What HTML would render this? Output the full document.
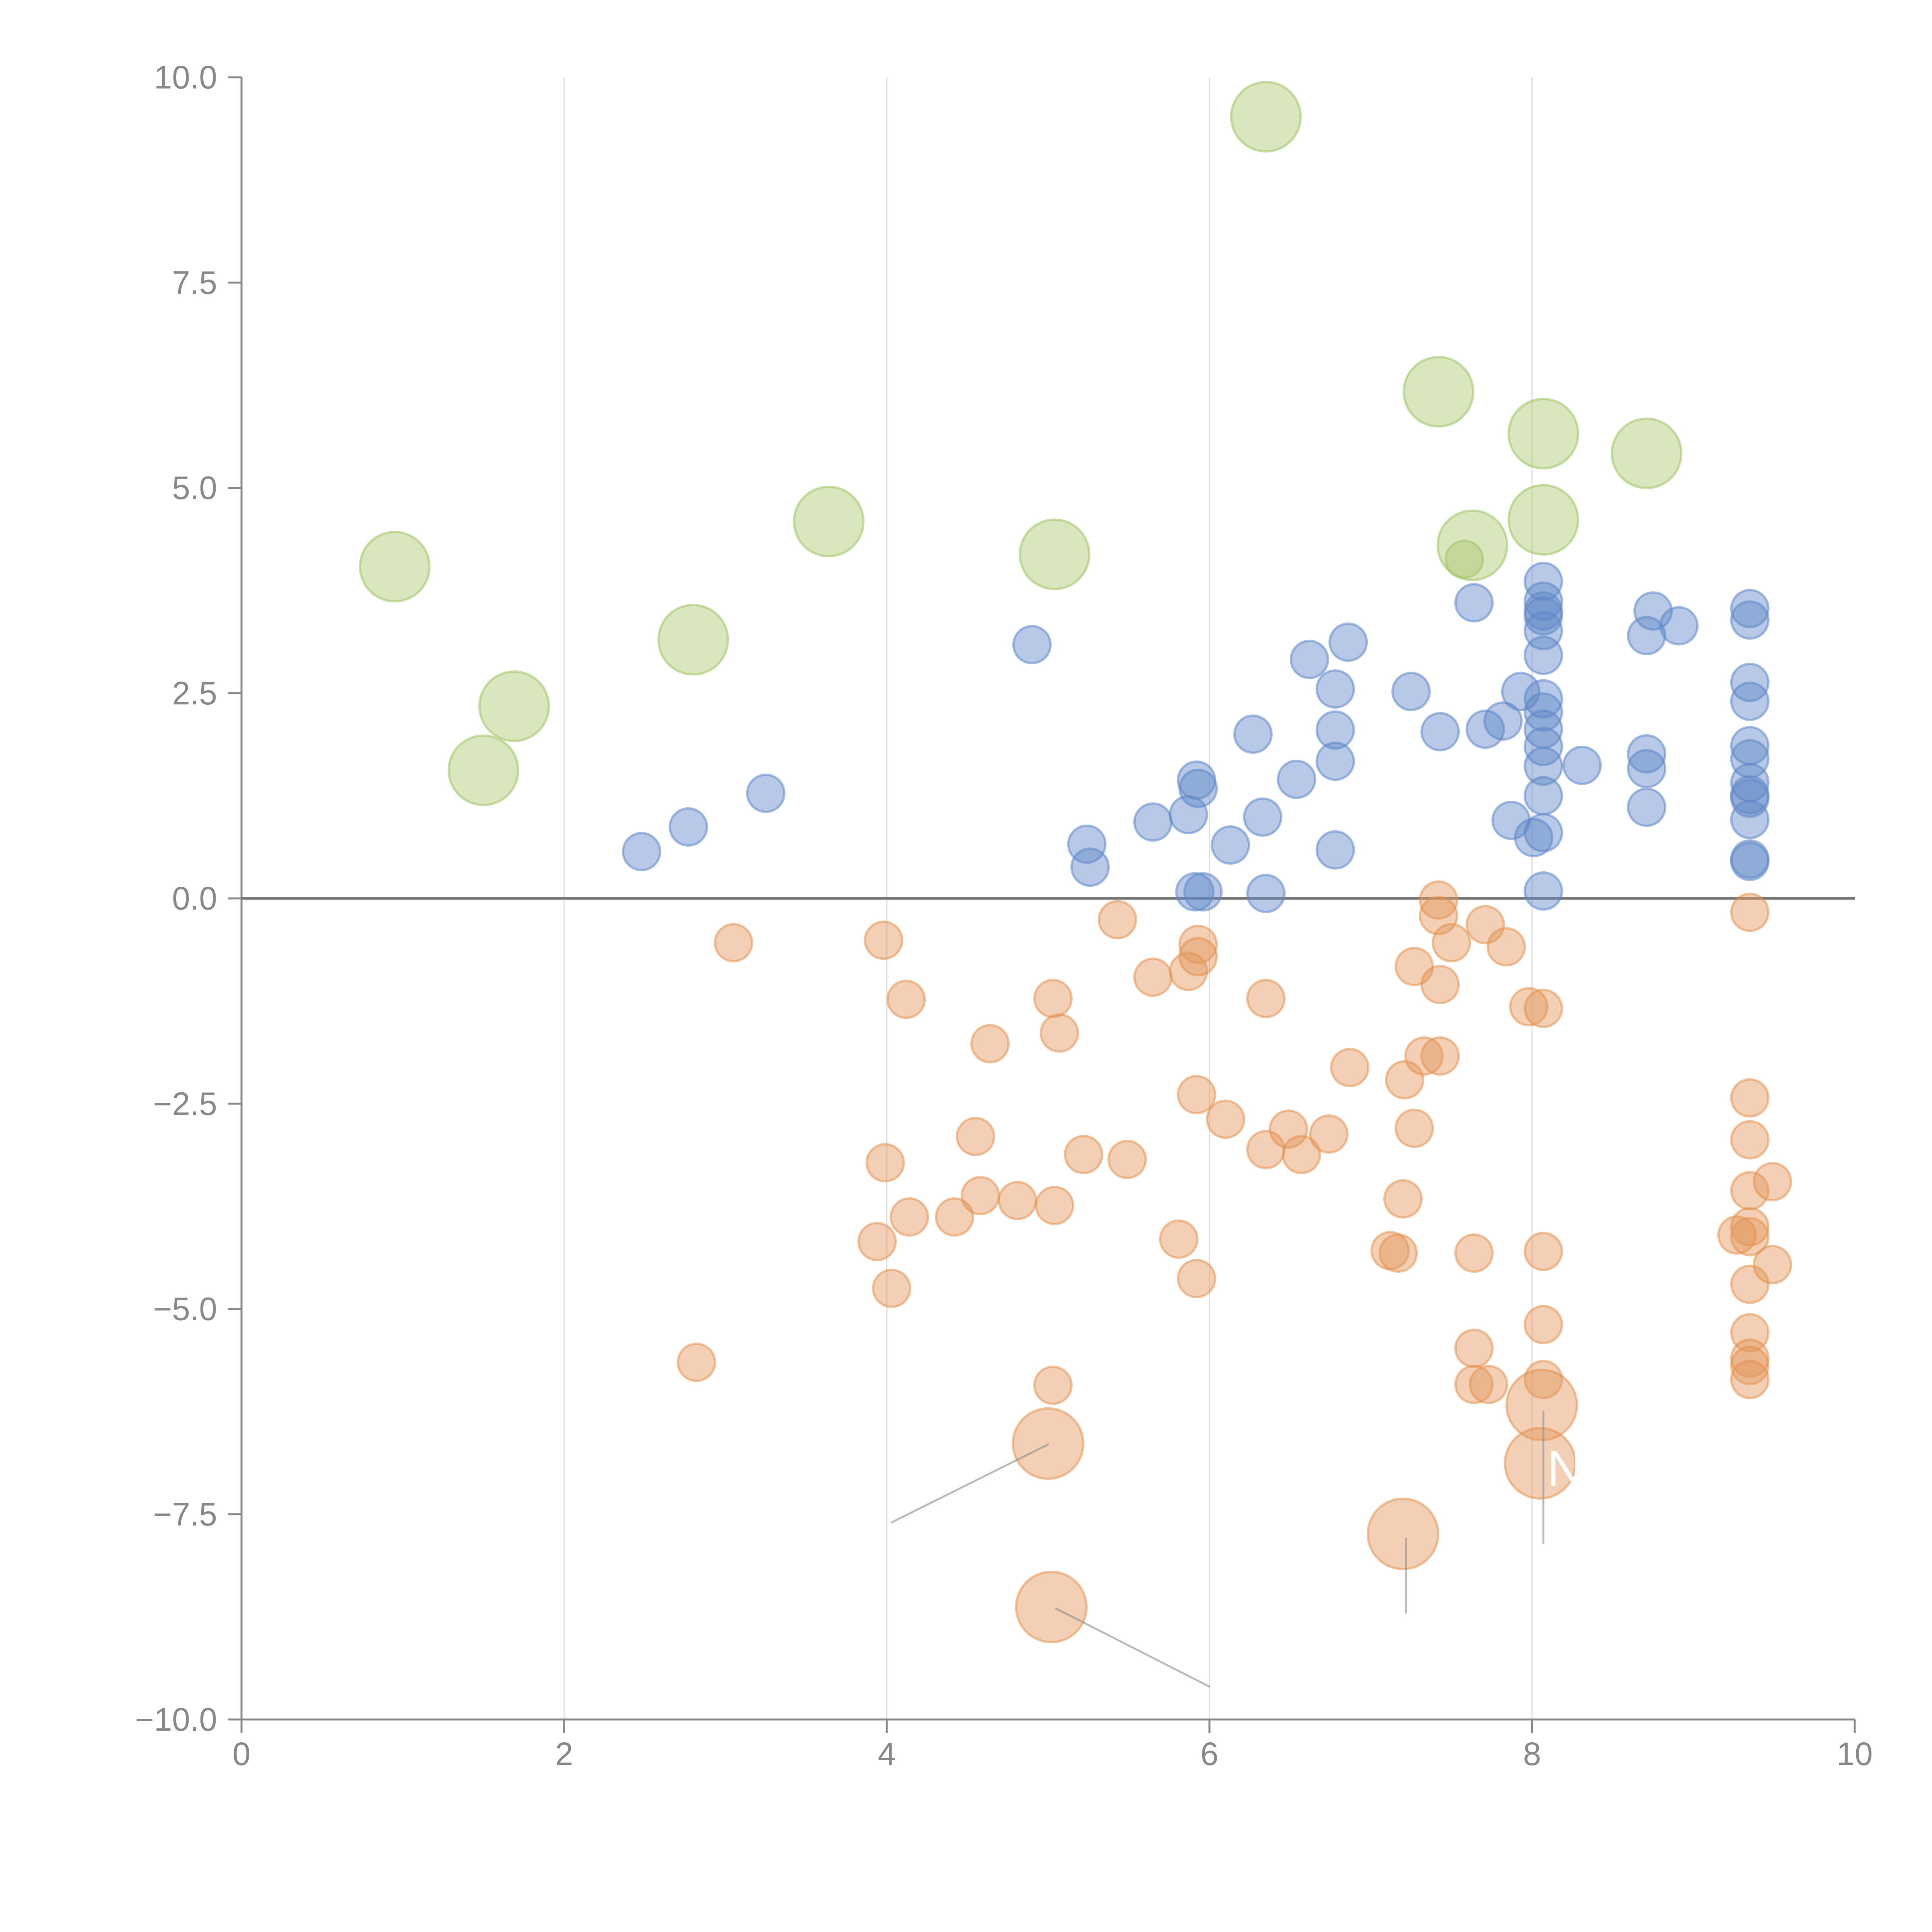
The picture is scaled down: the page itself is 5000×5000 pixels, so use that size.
<!DOCTYPE html>
<html><head><meta charset="utf-8"><style>
html,body{margin:0;padding:0;background:#fff}
svg{display:block}
text{font-family:"Liberation Sans",Arial,sans-serif}
</style></head><body>
<svg id="chart" width="5000" height="5000" viewBox="0 0 5000 5000" xmlns="http://www.w3.org/2000/svg"></svg>
<script>
const xTicks=[0,2,4,6,8,10];
const xTickLabels=["0","2","4","6","8","10"];
const yTicks=[-10,-7.5,-5,-2.5,0,2.5,5,7.5,10];
const yTickLabels=["\u221210.0","\u22127.5","\u22125.0","\u22122.5","0.0","2.5","5.0","7.5","10.0"];
const blueX=[2.48,2.77,3.25,4.90,5.24,5.26,5.65,5.87,5.92,5.93,5.91,5.96,6.13,6.27,6.33,6.35,6.54,6.62,6.78,6.78,6.78,6.78,6.86,7.25,7.43,7.64,7.71,7.82,7.87,7.93,8.01,8.07,8.07,8.07,8.07,8.07,8.07,8.07,8.07,8.07,8.07,8.07,8.07,8.07,8.07,8.31,8.71,8.71,8.71,8.71,8.75,8.91,9.35,9.35,9.35,9.35,9.35,9.35,9.35,9.35,9.35,9.35,9.35,9.35];
const blueY=[0.57,0.87,1.28,3.09,0.66,0.38,0.93,1.02,1.44,1.34,0.08,0.08,0.65,2.00,0.99,0.06,1.45,2.91,2.55,2.05,1.67,0.59,3.12,2.52,2.03,3.60,2.06,2.16,0.95,2.52,0.74,3.86,3.62,3.50,3.44,3.26,2.96,2.43,2.27,2.06,1.85,1.61,1.25,0.80,0.09,1.62,3.20,1.76,1.58,1.11,3.50,3.32,3.53,3.39,2.63,2.40,1.86,1.70,1.41,1.26,1.22,0.96,0.48,0.45];
const orangeX=[3.05,2.82,3.98,4.12,3.99,3.94,4.03,4.14,4.42,4.55,4.58,4.64,4.81,5.03,5.07,5.04,5.03,5.22,5.43,5.49,5.65,5.81,5.87,5.92,5.92,5.93,5.93,6.10,6.35,6.35,6.49,6.57,6.74,6.87,7.21,7.20,7.27,7.27,7.12,7.17,7.33,7.42,7.42,7.43,7.43,7.50,7.71,7.84,7.64,7.64,7.64,7.73,7.98,8.07,8.07,8.07,8.07,9.35,9.35,9.35,9.35,9.35,9.35,9.35,9.35,9.35,9.35,9.35,9.49,9.49,9.27,5.00,5.02,7.20,8.06,8.05];
const orangeY=[-0.54,-5.65,-0.51,-1.23,-3.22,-4.18,-4.75,-3.88,-3.88,-2.90,-3.62,-1.77,-3.68,-1.22,-1.64,-3.74,-5.93,-3.12,-0.26,-3.18,-0.96,-4.15,-0.89,-2.39,-4.63,-0.56,-0.71,-2.69,-1.22,-3.06,-2.81,-3.12,-2.87,-2.06,-2.21,-3.66,-0.83,-2.80,-4.29,-4.32,-1.92,-0.02,-0.21,-1.05,-1.92,-0.54,-0.32,-0.59,-4.32,-5.48,-5.92,-5.92,-1.32,-1.34,-4.30,-5.19,-5.86,-0.17,-2.43,-2.94,-3.56,-4.00,-4.12,-4.70,-5.29,-5.60,-5.69,-5.86,-3.45,-4.46,-4.10,-6.64,-8.63,-7.74,-6.17,-6.88];
const orangeSize=[1,1,1,1,1,1,1,1,1,1,1,1,1,1,1,1,1,1,1,1,1,1,1,1,1,1,1,1,1,1,1,1,1,1,1,1,1,1,1,1,1,1,1,1,1,1,1,1,1,1,1,1,1,1,1,1,1,1,1,1,1,1,1,1,1,1,1,1,1,1,1,3.6,3.6,3.6,3.6,3.6];
const greenX=[0.95,1.50,1.69,2.80,3.64,5.04,6.35,7.42,7.63,8.07,8.07,8.71,7.58];
const greenY=[4.04,1.56,2.34,3.15,4.59,4.19,9.52,6.17,4.30,5.66,4.61,5.42,4.13];
const greenSize=[3.5,3.5,3.5,3.5,3.5,3.5,3.5,3.5,3.5,3.5,3.5,3.5,1];
const leaderX1=[5.0,5.05,7.22,8.07];
const leaderY1=[-6.65,-8.65,-7.8,-6.25];
const leaderX2=[4.03,6.0,7.22,8.07];
const leaderY2=[-7.6,-9.6,-8.7,-7.85];

const X0=625,X1=4800,Y0=4450,Y1=200;
function sx(v){return X0+(v-0)/(10-0)*(X1-X0);}
function sy(v){return Y0-(v+10)/20*(Y0-Y1);}
function sr(s){return 48*Math.sqrt(s);}
const NS="http://www.w3.org/2000/svg";
const svg=document.getElementById('chart');
function mk(tag,attrs,parent){const e=document.createElementNS(NS,tag);for(const k in attrs)e.setAttribute(k,attrs[k]);(parent||svg).appendChild(e);return e;}

// gridlines
xTicks.forEach((t,i)=>{
  if(t===0||t===10)return;
  const g=mk('line',{x1:sx(t),x2:sx(t),y1:Y1,y2:Y0,stroke:'#dcdcdc','stroke-width':3});
  
  
});
// axes
const ya=mk('line',{x1:X0,x2:X0,y1:Y1,y2:Y0,stroke:'#888','stroke-width':5});


const xa=mk('line',{x1:X0,x2:X1,y1:Y0,y2:Y0,stroke:'#888','stroke-width':5});


xTicks.forEach((t,i)=>{
  const tk=mk('line',{x1:sx(t),x2:sx(t),y1:Y0,y2:Y0+35,stroke:'#888','stroke-width':5});
  
  
  const tx=mk('text',{x:sx(t),y:4568,'text-anchor':'middle','font-size':84,fill:'#888'});
  tx.textContent=xTickLabels[i];
  
  
});
yTicks.forEach((t,i)=>{
  const tk=mk('line',{x1:X0-35,x2:X0,y1:sy(t),y2:sy(t),stroke:'#888','stroke-width':5});
  
  
  const tx=mk('text',{x:562,y:sy(t)+29,'text-anchor':'end','font-size':84,fill:'#888'});
  tx.textContent=yTickLabels[i];
  
  
});
// zero line
const z=mk('line',{x1:X0,x2:X1,y1:sy(0),y2:sy(0),stroke:'#777','stroke-width':7});



function series(xs,ys,sz,fill,stroke,name){
  const g=mk('g',{});
  
  
  xs.forEach((x,i)=>{
    const c=mk('circle',{cx:sx(x),cy:sy(ys[i]),r:sr(sz?sz[i]:1),fill:fill,stroke:stroke,'stroke-width':6},g);
    
    
  });
}
series(blueX,blueY,null,'rgba(95,135,200,0.45)','rgba(95,135,200,0.55)','blue');
series(orangeX,orangeY,orangeSize,'rgba(228,150,90,0.45)','rgba(228,140,70,0.5)','orange');
series(greenX,greenY,greenSize,'rgba(170,200,110,0.45)','rgba(160,195,100,0.55)','green');

leaderX1.forEach((x,i)=>{
  const l=mk('line',{x1:sx(x),y1:sy(leaderY1[i]),x2:sx(leaderX2[i]),y2:sy(leaderY2[i]),stroke:'rgba(140,140,140,0.6)','stroke-width':5,'stroke-linecap':'round'});
  
  
});
const n=mk('text',{x:4004,y:3845,'font-size':130,fill:'#fff'});
n.textContent='N';


</script>
</body></html>
